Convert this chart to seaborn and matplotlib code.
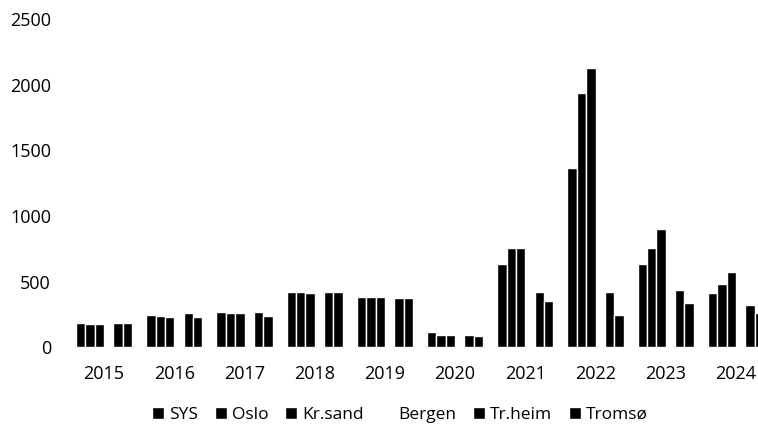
"""Grouped bar chart: yearly values for SYS and five regions, 2015-2024."""

import matplotlib

matplotlib.use("Agg")

import matplotlib.pyplot as plt
import pandas as pd
import seaborn as sns

YEARS = ["2015", "2016", "2017", "2018", "2019", "2020", "2021", "2022", "2023", "2024"]
SERIES = ["SYS", "Oslo", "Kr.sand", "Bergen", "Tr.heim", "Tromsø"]

SYS = [183, 246, 269, 419, 380, 114, 632, 1367, 636, 411]
OSLO = [177, 240, 263, 419, 380, 94, 753, 1933, 758, 482]
KRSAND = [177, 228, 263, 411, 380, 94, 758, 2123, 898, 573]
# Bergen is drawn in white in the original and cannot be read off the picture
BERGEN = [0, 0, 0, 0, 0, 0, 0, 0, 0, 0]
TRHEIM = [187, 259, 271, 419, 375, 94, 419, 421, 434, 320]
TROMSO = [183, 228, 236, 419, 375, 88, 350, 246, 337, 259]

COLORS = {
    "SYS": "black",
    "Oslo": "black",
    "Kr.sand": "black",
    "Bergen": "white",
    "Tr.heim": "black",
    "Tromsø": "black",
}


def build_frame() -> pd.DataFrame:
    values = [SYS, OSLO, KRSAND, BERGEN, TRHEIM, TROMSO]
    rows = []
    for name, series in zip(SERIES, values):
        for year, value in zip(YEARS, series):
            rows.append({"year": year, "series": name, "value": value})
    return pd.DataFrame(rows)


def main() -> None:
    sns.set_theme(style="white")
    plt.rcParams["font.family"] = ["Open Sans", "DejaVu Sans"]

    df = build_frame()

    fig = plt.figure(figsize=(7.58, 4.29), dpi=100)
    # right edge runs past the figure: the reference is cropped on the right
    ax = fig.add_axes([69 / 758, 1 - 347.3 / 429, 702 / 758, 328.5 / 429])

    sns.barplot(
        data=df,
        x="year",
        y="value",
        hue="series",
        hue_order=SERIES,
        order=YEARS,
        palette=COLORS,
        width=0.8,
        edgecolor="white",
        linewidth=1.0,
        saturation=1,
        errorbar=None,
        ax=ax,
    )

    ax.set_ylim(0, 2500)
    ax.set_yticks(range(0, 2501, 500))
    ax.set_xlabel("")
    ax.set_ylabel("")
    ax.tick_params(axis="both", length=0, labelsize=13, colors="black")
    ax.tick_params(axis="y", pad=13)
    ax.tick_params(axis="x", pad=13)
    sns.despine(ax=ax, left=True, bottom=True)

    handles, labels = ax.get_legend_handles_labels()
    ax.get_legend().remove()
    fig.legend(
        handles,
        labels,
        loc="center",
        bbox_to_anchor=(400 / 758, 1 - 415 / 429),
        ncol=6,
        frameon=False,
        fontsize=12.5,
        labelcolor="black",
        handlelength=0.7,
        handleheight=0.7,
        handletextpad=0.3,
        columnspacing=0.95,
    )

    fig.savefig("out.png", dpi=100)
    plt.close(fig)


if __name__ == "__main__":
    main()
